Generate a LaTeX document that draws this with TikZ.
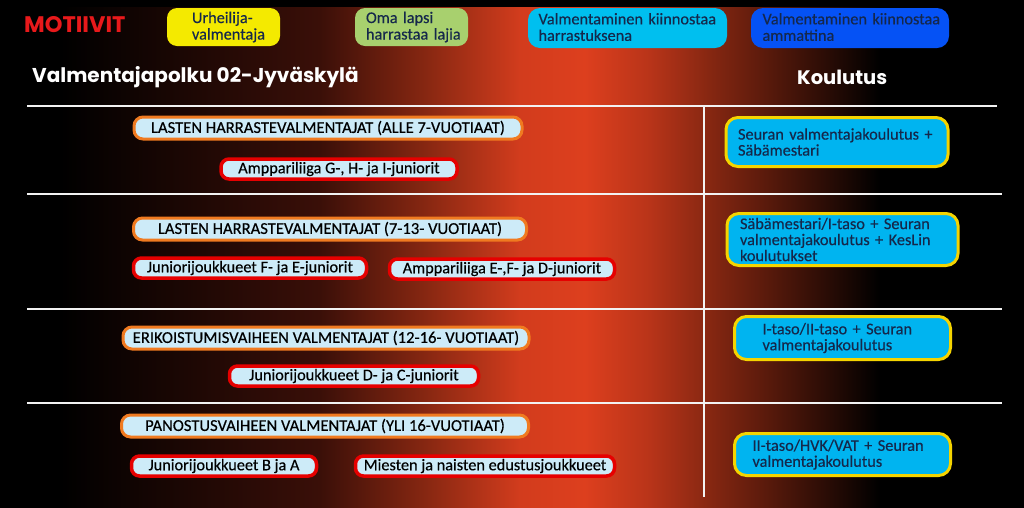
\documentclass[tikz,border=0pt]{standalone}
\usepackage{fontspec}
\setmainfont{Carlito}
\newfontfamily\boxfont[FakeBold=0.35]{Carlito}
\newfontfamily\titlefont{Poppins}
\definecolor{bgorange}{HTML}{DD3F1E}
\definecolor{bgorange2}{HTML}{D23C1D}
\definecolor{bgorange3}{HTML}{B83419}
\definecolor{bgmid}{HTML}{3A0F08}
\definecolor{bgmid2}{HTML}{8A2812}
\definecolor{motred}{HTML}{E8191B}
\definecolor{ybox}{HTML}{F4EA00}
\definecolor{gbox}{HTML}{A8D06E}
\definecolor{cbox}{HTML}{00BFEF}
\definecolor{bbox}{HTML}{0552F5}
\definecolor{navytext}{HTML}{15284B}
\definecolor{lightfill}{HTML}{CDEBF8}
\definecolor{orangeedge}{HTML}{F07A20}
\definecolor{rededge}{HTML}{E60000}
\definecolor{rfill}{HTML}{00B4F0}
\definecolor{redge}{HTML}{F5D400}
\tikzset{
  motive/.style={inner xsep=0pt, inner ysep=0pt, align=left,
    text=navytext, font=\boxfont\fontsize{16.3}{16.5}\selectfont, anchor=center},
  header/.style={draw=orangeedge, line width=3pt, fill=lightfill, rounded corners=9pt,
    inner sep=0pt, font=\boxfont\fontsize{16.6}{17}\selectfont, text=black},
  sub/.style={draw=rededge, line width=3.5pt, fill=lightfill, rounded corners=8pt,
    inner sep=0pt, font=\boxfont\fontsize{16.3}{17}\selectfont, text=black},
  course/.style={draw=redge, line width=3pt, fill=rfill, rounded corners=12pt,
    inner ysep=0pt, align=left, font=\boxfont\fontsize{16.3}{16}\selectfont, text=navytext},
  sep/.style={draw=white!90!gray, line width=1.6pt},
  heading/.style={text=white, font=\titlefont\bfseries\fontsize{20}{21}\selectfont, anchor=west, inner sep=0pt}
}
\begin{document}
\begin{tikzpicture}[x=1pt,y=-1pt]
\useasboundingbox (0,0) rectangle (1024,507);
% background
\fill[black] (-2,-2) rectangle (1026,512);
\shade[left color=black, right color=bgmid] (60,7) rectangle (320,512);
\shade[left color=bgmid, right color=bgmid2] (319.5,7) rectangle (430,512);
\shade[left color=bgmid2, right color=bgorange2] (429.5,7) rectangle (520,512);
\shade[left color=bgorange2, right color=bgorange] (519.5,7) rectangle (585,512);
\shade[left color=bgorange, right color=bgorange3] (584.5,7) rectangle (650,512);
\shade[left color=bgorange3, right color=bgmid2] (649.5,7) rectangle (705,512);
\shade[left color=bgmid2, right color=black] (704.5,7) rectangle (880,512);
\fill[black] (-2,-2) rectangle (1026,7);

% motives
\node[text=motred, font=\titlefont\bfseries\fontsize{22.5}{23}\selectfont, anchor=west, inner sep=0pt] (mot) at (24,25) {MOTIIVIT};
\path[fill=ybox, rounded corners=10pt] (167,8) rectangle (280,46);
\node[motive, text width=88pt] (m1) at (236,27) {Urheilija-\\valmentaja};
\path[fill=gbox, rounded corners=10pt] (355,8) rectangle (468,46);
\node[motive, text width=100pt] (m2) at (416,27) {Oma lapsi\\harrastaa lajia};
\path[fill=cbox, rounded corners=12pt] (528,8) rectangle (727,48);
\node[motive, text width=185pt] (m3) at (631,27) {Valmentaminen kiinnostaa\\harrastuksena};
\path[fill=bbox, rounded corners=12pt] (751,8) rectangle (949,48);
\node[motive, text width=185pt] (m4) at (855,27) {Valmentaminen kiinnostaa\\ammattina};

% headings
\node[heading] (title) at (32,77) {Valmentajapolku 02-Jyväskylä};
\node[heading, font=\titlefont\bfseries\fontsize{19.5}{20}\selectfont] (koul) at (797,77) {Koulutus};

% separators
\coordinate (l1a) at (27,106); \coordinate (l1b) at (997,106);
\coordinate (l2a) at (27,194); \coordinate (l2b) at (1002,194);
\coordinate (l3a) at (27,309); \coordinate (l3b) at (1002,309);
\coordinate (l4a) at (27,403); \coordinate (l4b) at (1002,403);
\coordinate (va) at (704,106); \coordinate (vb) at (704,497);
\draw[sep] (l1a) -- (l1b);
\draw[sep] (l2a) -- (l2b);
\draw[sep] (l3a) -- (l3b);
\draw[sep] (l4a) -- (l4b);
\draw[sep] (va) -- (vb);

% left column
\node[header, minimum width=388pt, minimum height=22pt] (h1) at (328,128) {LASTEN HARRASTEVALMENTAJAT (ALLE 7-VUOTIAAT)};
\node[sub, minimum width=236pt, minimum height=20pt] (s1) at (339,169) {Amppariliiga G-, H- ja I-juniorit};
\node[header, minimum width=393pt, minimum height=22pt] (h2) at (330,229) {LASTEN HARRASTEVALMENTAJAT (7-13- VUOTIAAT)};
\node[sub, minimum width=233pt, minimum height=20pt] (s2a) at (250,268) {Juniorijoukkueet F- ja E-juniorit};
\node[sub, minimum width=225pt, minimum height=20pt] (s2b) at (502,269) {Amppariliiga E-,F- ja D-juniorit};
\node[header, minimum width=406pt, minimum height=22pt] (h3) at (326,338) {ERIKOISTUMISVAIHEEN VALMENTAJAT (12-16- VUOTIAAT)};
\node[sub, minimum width=249pt, minimum height=20pt] (s3) at (354,376) {Juniorijoukkueet D- ja C-juniorit};
\node[header, minimum width=407pt, minimum height=22pt] (h4) at (325,426) {PANOSTUSVAIHEEN VALMENTAJAT (YLI 16-VUOTIAAT)};
\node[sub, minimum width=185pt, minimum height=20pt] (s4a) at (224,466) {Juniorijoukkueet B ja A};
\node[sub, minimum width=259pt, minimum height=20pt] (s4b) at (485,466) {Miesten ja naisten edustusjoukkueet};

% right column
\node[course, inner xsep=12pt, text width=198pt, minimum height=49pt] (c1) at (837,142) {Seuran valmentajakoulutus +\\Säbämestari};
\node[course, inner xsep=13pt, text width=205pt, minimum height=52pt] (c2) at (842.5,239.5) {Säbämestari/I-taso + Seuran\\valmentajakoulutus + KesLin\\koulutukset};
\node[course, inner xsep=28pt, text width=160pt, minimum height=43pt] (c3) at (842.5,338) {I-taso/II-taso + Seuran\\valmentajakoulutus};
\node[course, inner xsep=18pt, text width=180pt, minimum height=42pt] (c4) at (842.5,454.5) {II-taso/HVK/VAT + Seuran\\valmentajakoulutus};
\end{tikzpicture}
\end{document}
